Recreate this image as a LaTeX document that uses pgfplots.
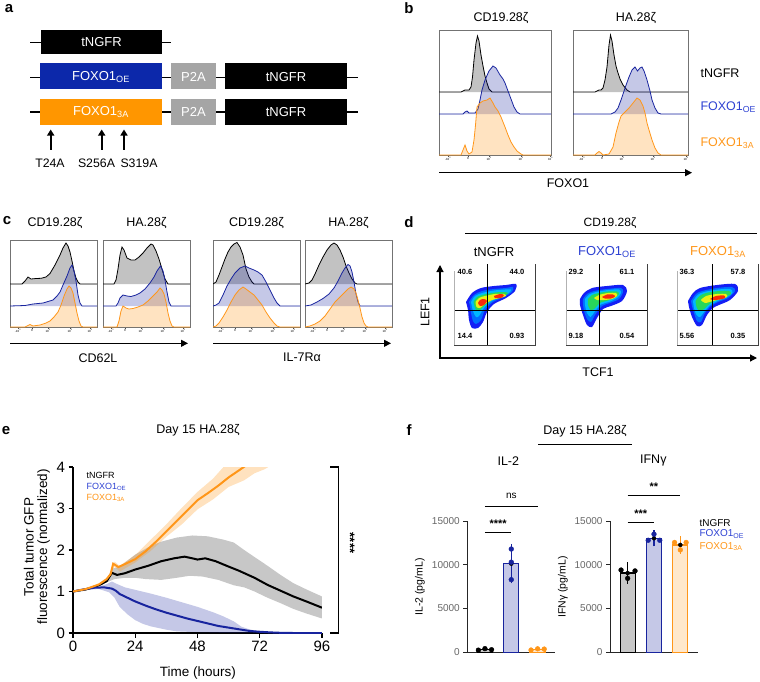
\documentclass[border=0pt]{standalone}
\usepackage{fontspec}
\setmainfont{Liberation Sans}
\usepackage{pgfplots}
\pgfplotsset{compat=1.18}
\usetikzlibrary{arrows.meta}
\definecolor{cblue}{RGB}{24,36,158}
\definecolor{cbluet}{RGB}{45,65,210}
\definecolor{corange}{RGB}{255,150,25}
\definecolor{cboxblue}{RGB}{12,40,170}
\definecolor{cboxorange}{RGB}{255,150,0}
\definecolor{cp2a}{RGB}{165,165,165}
\definecolor{fl1}{RGB}{20,30,245}
\definecolor{fl1b}{RGB}{0,110,255}
\definecolor{fl2}{RGB}{0,185,255}
\definecolor{fl3}{RGB}{40,215,90}
\definecolor{fl4}{RGB}{235,240,20}
\definecolor{fl5}{RGB}{250,40,10}
\newcommand\fs[1]{\fontsize{#1}{#1}\selectfont}
\newcommand\ex{\textsuperscript}
\pgfplotsset{
  hist/.style={scale only axis, xmin=0, ymin=0, clip=true,
    axis line style={draw=black!55, line width=0.5pt},
    ytick=\empty, xtick pos=left, tick align=outside,
    major tick length=1.6pt, tick style={black!70, line width=0.3pt},
    xticklabels={-10\ex{3},0,10\ex{3},10\ex{4},10\ex{5}},
    xticklabel style={font=\fs{3}, inner sep=0.6pt}},
  hk/.style={draw=black, line width=0.8pt, fill=black!24},
  hb/.style={draw=cblue, line width=0.8pt, fill=cblue, fill opacity=0.25},
  ho/.style={draw=corange, line width=0.8pt, fill=corange, fill opacity=0.27},
  dens/.style={scale only axis, width=81pt, height=81pt, xmin=0, xmax=81, ymin=-2, ymax=79,
    hide axis, clip=false},
  fbar/.style={scale only axis, width=87.7pt, height=131.3pt,
    xmin=-0.67, xmax=2.66, ymin=0, ymax=15000,
    axis x line*=bottom, axis y line*=left,
    axis line style={line width=1pt, black!85},
    xtick=\empty, ytick={0,5000,10000,15000}, scaled y ticks=false,
    yticklabel style={font=\fs{10}, text=black!60},
    /pgf/number format/assume math mode=true,
    /pgf/number format/1000 sep={},
    tick align=outside, major tick length=4pt, tick style={line width=1pt, black!85},
    clip=false},
  bk/.style={ybar, bar width=15pt, bar shift=0pt, draw=black, line width=1.3pt, fill=black!22},
  bb/.style={ybar, bar width=15pt, bar shift=0pt, draw=cblue, line width=1.3pt, fill=cblue!25},
  bo/.style={ybar, bar width=15pt, bar shift=0pt, draw=corange, line width=1.3pt, fill=corange!22},
  eb/.style={only marks, mark=none, error bars/.cd, y dir=both, y explicit, error mark=-,
    error mark options={mark size=4.5pt, line width=1.2pt, #1},
    error bar style={line width=1.2pt, #1}},
  dt/.style={only marks, mark=*, mark size=2.4pt, draw=#1, fill=#1},
}
\begin{document}
\begin{tikzpicture}
\path[use as bounding box] (0,0) rectangle (760pt,-681pt);

% ---------------- panel b ----------------
\begin{axis}[hist, at={(439pt,-155pt)}, width=112pt, height=125pt, xmax=112, ymax=125, xtick={9,29,50,82,111.5}]
\addplot[hk] coordinates {(0,63)(22,63)(24,64)(26,65)(28,65)(30,65)(32,68)(33.5,78)(35,95)(37,112)(38.5,119)(40,114)(42,100)(44,89)(46,79)(48,72)(50,66)(53,63)(112,63)};
\addplot[hb] coordinates {(0,41)(24,41)(26,43)(28,44)(30,42)(36,42)(39,46)(41,55)(43,65)(46,75)(50,84)(54,89)(57,87)(61,80)(64,76)(66,72)(69,64)(72,56)(75,48)(78,43)(81,41)(112,41)};
\addplot[ho] coordinates {(0,0)(22,0)(24,5)(26,10)(28,4)(30,1)(33,3)(35,15)(36.5,30)(38,48)(41,52)(44,54)(48,55)(51,57)(54,52)(56,48)(59,44)(62,38)(66,28)(69,20)(72,13)(75,8)(78,4)(82,1)(84,0)(112,0)};
\end{axis}
\begin{axis}[hist, at={(573pt,-155pt)}, width=115pt, height=125pt, xmax=115, ymax=125, xtick={9,29,49,80,113}]
\addplot[hk] coordinates {(0,63)(22,63)(24,64)(26,65)(28,65)(30,67)(32,75)(34,88)(36,110)(37.5,120)(39,114)(41,100)(43,89)(45,82)(47,76)(50,70)(54,65)(57,63)(115,63)};
\addplot[hb] coordinates {(0,41)(38,41)(42,43)(45,47)(48,55)(52,67)(56,78)(59,85)(62,88)(64.5,84)(67,87)(69,88)(71,84)(74,75)(77,64)(79,55)(82,47)(85,42)(88,41)(115,41)};
\addplot[ho] coordinates {(0,0)(22,0)(24,2)(26,3.5)(28,2)(30,0)(36,1)(40,8)(43,22)(46,33)(48,39)(52,43)(56,47)(60,52)(64,57)(67,55)(70,49)(72,42)(74,32)(76,25)(79,15)(82,7)(85,2)(88,0)(115,0)};
\end{axis}

% ---------------- panel c ----------------
\begin{axis}[hist, at={(10pt,-327pt)}, width=87pt, height=87pt, xmax=87, ymax=87, xtick={8,22,38,60,80}]
\addplot[hk] coordinates {(0,43)(12,43)(15,46)(18,50)(21,48)(26,48.5)(31,48.7)(36,50)(40,53.5)(45,62)(50,72)(53,79)(56,84)(58,81)(60,75)(62,66)(64,56)(66,49)(68,45)(70,43)(87,43)};
\addplot[hb] coordinates {(0,21)(15,21.5)(23,23)(33,24)(43,27)(47,31)(50,35)(53,42)(57,51)(60,59)(62,62)(64,56)(66,46)(68,32)(70,24)(72,21)(87,21)};
\addplot[ho] coordinates {(0,0)(15,0)(18,1.5)(20,2.5)(23,1)(30,2)(36,4)(40,6)(44,10)(48,15)(51,22)(54,31)(57,38)(59,41)(61,39)(63,34)(65,24)(67,14)(69,6)(71,1)(73,0)(87,0)};
\end{axis}
\begin{axis}[hist, at={(103pt,-327pt)}, width=87pt, height=87pt, xmax=87, ymax=87, xtick={8,22,38,60,80}]
\addplot[hk] coordinates {(0,43)(11,43)(13,47)(15,58)(17,72)(19,80)(21,77)(24,69)(28,67)(32,67)(36,70)(40,74)(44,79)(48,83)(50,82)(53,76)(56,68)(59,58)(62,48)(65,43)(87,43)};
\addplot[hb] coordinates {(0,21)(13,21)(15,24)(17,29)(20,32)(24,31)(28,30.5)(33,32)(37,34)(42,38)(47,44)(51,50)(54,56)(57.5,61)(60,56)(62,47)(64,35)(66,25)(68,21)(87,21)};
\addplot[ho] coordinates {(0,0)(14,0)(16,6)(18,16)(20,21)(23,19)(26,18)(30,18.5)(35,20)(40,22)(45,26)(50,31)(54,35)(57,39)(59,37)(61,33)(63,25)(65,14)(67,6)(69,1)(71,0)(87,0)};
\end{axis}
\begin{axis}[hist, at={(213pt,-327pt)}, width=87pt, height=87pt, xmax=87, ymax=87, xtick={8,22,38,60,80}]
\addplot[hk] coordinates {(0,43)(3,45)(6,52)(9,60)(12,68)(15,75)(18,80)(21,83)(24,84.5)(27,80)(30,72)(33,58)(36,50)(39,45)(41,43)(87,43)};
\addplot[hb] coordinates {(0,21)(3,22)(6,24)(10,32)(14,41)(18,48)(22,54)(27,59)(32,61)(36,59)(41,57)(45,55)(49,52)(53,45)(57,37)(61,29)(64,24)(67,21)(87,21)};
\addplot[ho] coordinates {(0,0)(3,1)(6,4)(10,10)(14,17)(18,25)(22,32)(26,37)(30,40)(33,38)(37,35)(41,32)(45,27)(49,22)(53,15)(57,9)(61,4)(64,1)(67,0)(87,0)};
\end{axis}
\begin{axis}[hist, at={(305pt,-327pt)}, width=87pt, height=87pt, xmax=87, ymax=87, xtick={8,22,38,60,80}]
\addplot[hk] coordinates {(0,43)(4,44)(7,47)(10,53)(14,62)(18,70)(22,77)(26,82)(29,84)(32,82)(35,77)(38,70)(41,61)(44,54)(47,48)(50,44)(52,43)(87,43)};
\addplot[hb] coordinates {(0,21)(6,22)(12,25)(18,28.5)(24,33)(29,39)(33,46)(37,54)(40,59)(43,62.5)(45,61)(47,55)(49,45)(51,33)(53,25)(55,21)(87,21)};
\addplot[ho] coordinates {(0,0)(5,1)(10,3)(15,6)(20,11)(25,18)(30,25)(35,30)(39,34)(43,38)(46,40)(49,38)(51,34)(53,27)(55,19)(57,10)(59,4)(61,1)(63,0)(87,0)};
\end{axis}

% ---------------- panel d ----------------
\begin{axis}[dens, at={(454pt,-345pt)}]
\addplot[fill=fl1, draw=none, smooth] coordinates {(12,41)(18,50)(27,55)(40,57)(52,58)(62,59)(61,52)(52,45)(40,39)(33,31)(29,21)(24,15)(18,15)(15,23)(14,33)(12,41)};
\addplot[fill=fl1b, draw=none, smooth] coordinates {(15,41)(20,48)(28,52)(40,54)(52,55)(59,56)(58,51)(50,46)(39,41)(31,33)(27,23)(22,19)(19,22)(17,30)(16,37)(15,41)};
\addplot[fill=fl2, draw=none, smooth] coordinates {(17,41)(21,47)(28,50)(40,52.5)(51,53.5)(57,53.5)(55,50)(48,46.5)(38,42)(30,35)(25,27)(22,26)(19,32)(17,41)};
\addplot[fill=fl3, draw=none, smooth] coordinates {(19.5,41)(23,46)(30,48.5)(41,50.5)(50,51)(54,50)(51,47.5)(45,46)(37,42.5)(30,37)(25,32)(21.5,34)(19.5,41)};
\addplot[fill=fl4, draw=none, smooth] coordinates {(21.5,41)(25,45)(31,47)(41,49)(50,49)(52,47)(46,45)(38,43)(31,39)(26,35)(22.5,36)(21.5,41)};
\addplot[fill=fl5, draw=none, smooth] coordinates {(24,40)(26,43)(30,44)(33,42)(30,38)(26,37)(24,40)};
\addplot[fill=fl5, draw=none, smooth] coordinates {(40,47)(46,49)(50,48)(47,45)(41,45)(40,47)};
\addplot[black, line width=0.7pt] coordinates {(33,-2)(33,79)};
\addplot[black, line width=0.7pt] coordinates {(0,33)(81,33)};
\addplot[black!75, line width=0.6pt] coordinates {(81,79)(81,-2)(0,-2)};
\addplot[black!30, line width=0.4pt] coordinates {(0,-2)(0,72)};
\node[font=\bfseries\fs{7.5}] at (axis cs:11,71) {40.6};
\node[font=\bfseries\fs{7.5}] at (axis cs:63,71) {44.0};
\node[font=\bfseries\fs{7.5}] at (axis cs:11,7) {14.4};
\node[font=\bfseries\fs{7.5}] at (axis cs:63,7) {0.93};
\end{axis}
\begin{axis}[dens, at={(566pt,-345pt)}]
\addplot[fill=fl1, draw=none, smooth] coordinates {(14,44)(18,50)(26,55)(41,57)(57,58)(61,52)(56,42)(45,37)(37,34)(31,25)(26,16)(21,18)(17,28)(14,38)(14,44)};
\addplot[fill=fl1b, draw=none, smooth] coordinates {(17,44)(21,49)(28,52)(41,54)(55,55)(57,51)(53,44)(44,40)(36,37)(29,28)(25,21)(21,24)(18,32)(17,39)(17,44)};
\addplot[fill=fl2, draw=none, smooth] coordinates {(19,44)(23,48.5)(30,51)(42,53)(53,53.5)(55,50)(51,45)(43,41)(35,38.5)(28.5,31)(24.5,26)(21,30)(19,38)(19,44)};
\addplot[fill=fl3, draw=none, smooth] coordinates {(22,44)(26,48)(33,50)(42,51.5)(51,51.5)(53,49)(49,45.5)(42,42.5)(34,40)(28,34)(24.5,33)(22,38)(22,44)};
\addplot[fill=fl4, draw=none, smooth] coordinates {(28,45)(33,48)(42,50)(50,50)(51,47)(46,44)(38,43)(31,43)(28,45)};
\addplot[fill=fl5, draw=none, smooth] coordinates {(36,46)(41,48.5)(47,48.5)(49,46.5)(45,44.5)(39,44.5)(36,46)};
\addplot[black, line width=0.7pt] coordinates {(33,-2)(33,79)};
\addplot[black, line width=0.7pt] coordinates {(0,33)(81,33)};
\addplot[black!75, line width=0.6pt] coordinates {(81,79)(81,-2)(0,-2)};
\addplot[black!30, line width=0.4pt] coordinates {(0,-2)(0,72)};
\node[font=\bfseries\fs{7.5}] at (axis cs:10,71) {29.2};
\node[font=\bfseries\fs{7.5}] at (axis cs:61,71) {61.1};
\node[font=\bfseries\fs{7.5}] at (axis cs:10,7) {9.18};
\node[font=\bfseries\fs{7.5}] at (axis cs:61,7) {0.54};
\end{axis}
\begin{axis}[dens, at={(677pt,-345pt)}]
\addplot[fill=fl1, draw=none, smooth] coordinates {(11,42)(16,50)(23,55)(40,58)(58,59)(61,52)(53,43)(42,38)(36,35)(30,28)(25,18)(20,17)(15,26)(12,36)(11,42)};
\addplot[fill=fl1b, draw=none, smooth] coordinates {(14,42)(19,49)(25,52)(40,55)(55,56)(58,52)(51,45)(41,41)(34,37)(28,30)(24,21)(20,22)(17,30)(15,37)(14,42)};
\addplot[fill=fl2, draw=none, smooth] coordinates {(16,42)(20.5,48)(27,51)(41,53.5)(53,54)(55.5,50.5)(49.5,45.5)(40.5,42)(33.5,38)(27.5,31.5)(23,26)(19.5,28)(17,35)(16,42)};
\addplot[fill=fl3, draw=none, smooth] coordinates {(18.5,42)(22.5,47)(29,50)(42,52)(52,52)(54,49)(48,46)(40,43)(33,39.5)(27,34)(22.5,32)(19.5,36)(18.5,42)};
\addplot[fill=fl4, draw=none, smooth] coordinates {(24,43)(29,47)(40,49)(49,49)(50,46)(44,44)(36,42)(28,40)(24,43)};
\addplot[fill=fl5, draw=none, smooth] coordinates {(33,44)(39,47)(47,47.5)(48,45)(43,43.5)(36,43)(33,44)};
\addplot[black, line width=0.7pt] coordinates {(35,-2)(35,79)};
\addplot[black, line width=0.7pt] coordinates {(0,33)(81,33)};
\addplot[black!75, line width=0.6pt] coordinates {(81,79)(81,-2)(0,-2)};
\addplot[black!30, line width=0.4pt] coordinates {(0,-2)(0,72)};
\node[font=\bfseries\fs{7.5}] at (axis cs:10,71) {36.3};
\node[font=\bfseries\fs{7.5}] at (axis cs:61,71) {57.8};
\node[font=\bfseries\fs{7.5}] at (axis cs:10,7) {5.56};
\node[font=\bfseries\fs{7.5}] at (axis cs:61,7) {0.35};
\end{axis}

% ---------------- panel e ----------------
\begin{axis}[at={(73pt,-633pt)}, scale only axis, width=249pt, height=166pt,
  xmin=0, xmax=96, ymin=0, ymax=4,
  axis x line*=bottom, axis y line*=left,
  axis line style={line width=1.3pt},
  xtick={0,24,48,72,96}, ytick={0,1,2,3,4},
  tick align=outside, major tick length=4.5pt,
  tick style={line width=1.3pt, black},
  ticklabel style={font=\fs{15}},
  /pgf/number format/assume math mode=true,
  clip=true]
\addplot[fill=black!22, draw=none] coordinates {(0,1)(10,1.16)(13,1.28)(15,1.55)(18,1.6)(24,1.89)(30,2.1)(34,2.2)(40,2.3)(46,2.35)(52,2.33)(58,2.25)(62,2.18)(66,2.0)(70,1.83)(75,1.62)(80,1.4)(85,1.2)(90,1.05)(96,0.88)
 (96,0.35)(90,0.47)(85,0.58)(80,0.72)(75,0.85)(70,1.0)(66,1.1)(62,1.15)(56,1.28)(50,1.36)(45,1.38)(40,1.33)(34,1.28)(28,1.3)(24,1.33)(20,1.33)(16,1.3)(13,1.22)(10,1.13)(0,1)} -- cycle;
\addplot[fill=cblue, fill opacity=0.25, draw=none] coordinates {(0,1)(6,1.08)(10,1.12)(13,1.18)(15,1.24)(17,1.18)(20,1.1)(24,1.04)(30,0.95)(36,0.85)(42,0.74)(48,0.63)(54,0.5)(58,0.4)(62,0.28)(65,0.15)(68,0.09)(72,0.03)(76,0.01)(80,0)
 (60,0)(48,0.02)(40,0.04)(36,0.08)(30,0.16)(27,0.22)(24,0.31)(21,0.45)(18,0.63)(16,0.85)(14,0.98)(10,1.06)(6,1.04)(0,1)} -- cycle;
\addplot[fill=corange, fill opacity=0.28, draw=none] coordinates {(0,1)(6,1.08)(12,1.25)(15,1.5)(16,1.72)(18,1.62)(24,1.88)(30,2.25)(36,2.62)(42,3.02)(48,3.4)(54,3.72)(58,4.0)(64,4.4)
 (78,4.1)(74,3.95)(70,3.85)(66,3.68)(60,3.52)(54,3.22)(48,2.98)(42,2.62)(36,2.32)(30,1.98)(24,1.7)(18,1.48)(16,1.6)(12,1.2)(6,1.04)(0,1)} -- cycle;
\addplot[black, line width=2pt] coordinates {(0,1)(5,1.05)(10,1.15)(13,1.25)(15,1.45)(17,1.4)(20,1.44)(24,1.53)(29,1.62)(34,1.73)(39,1.8)(43,1.84)(46,1.8)(48,1.77)(51,1.8)(55,1.73)(60,1.6)(64,1.5)(70,1.33)(75,1.16)(80,1.02)(85,0.88)(90,0.76)(96,0.61)};
\addplot[cblue, line width=2pt] coordinates {(0,1)(4,1.05)(8,1.09)(12,1.1)(15,1.07)(16.5,1.02)(18,0.94)(21,0.85)(24,0.76)(28,0.66)(32,0.57)(36,0.49)(40,0.42)(44,0.35)(48,0.29)(52,0.23)(56,0.17)(60,0.13)(64,0.09)(68,0.05)(72,0.03)(76,0.015)(80,0.005)(85,0)(96,0)};
\addplot[corange, line width=2pt] coordinates {(0,1)(5,1.06)(10,1.17)(13,1.3)(14.5,1.42)(15.5,1.67)(17.5,1.59)(20,1.66)(24,1.78)(28,1.97)(32,2.2)(36,2.45)(40,2.7)(44,2.95)(48,3.2)(52,3.37)(56,3.55)(60,3.75)(64,3.92)(67,4.05)};
\end{axis}

% ---------------- panel f ----------------
\begin{axis}[fbar, at={(467.3pt,-652.3pt)}]
\addplot[bk] coordinates {(0,320)};
\addplot[bb] coordinates {(1,10130)};
\addplot[bo] coordinates {(2,340)};
\addplot[eb=cblue] coordinates {(1,10130) +- (0,1750)};
\addplot[dt=black] coordinates {(-0.25,250)(0,420)(0.25,300)};
\addplot[dt=cblue] coordinates {(1,11800)(1,10300)(1,8300)};
\addplot[dt=corange] coordinates {(1.75,260)(2,400)(2.25,370)};
\draw[line width=0.9pt] (axis cs:0,13740) -- (axis cs:1,13740);
\node[font=\bfseries\fs{11}] at (axis cs:0.5,14700) {****};
\draw[line width=0.9pt] (axis cs:0,16700) -- (axis cs:2,16700);
\node[font=\fs{10}] at (axis cs:1,17900) {ns};
\end{axis}
\begin{axis}[fbar, at={(610pt,-652.3pt)}]
\addplot[bk] coordinates {(0,9050)};
\addplot[bb] coordinates {(1,13030)};
\addplot[bo] coordinates {(2,12270)};
\addplot[eb=black] coordinates {(0,9050) +- (0,700)};
\addplot[eb=cblue] coordinates {(1,13030) +- (0,420)};
\addplot[eb=corange] coordinates {(2,12270) +- (0,490)};
\addplot[dt=black] coordinates {(-0.25,9400)(0,8450)(0.28,9300)};
\addplot[dt=cblue] coordinates {(1,13500)(0.78,12800)(1.22,12800)};
\addplot[dt=corange] coordinates {(1.78,12550)(2,11700)(2.22,12550)};
\draw[line width=0.9pt] (axis cs:0,14890) -- (axis cs:1,14890);
\node[font=\bfseries\fs{11}] at (axis cs:0.5,15800) {***};
\draw[line width=0.9pt] (axis cs:0,17970) -- (axis cs:2,17970);
\node[font=\bfseries\fs{11}] at (axis cs:1,18900) {**};
\end{axis}

% ---------------- text and diagrams ----------------
\begin{scope}[x=1pt,y=-1pt]
% letters
\node[font=\bfseries\fs{15}] at (9,9) {a};
\node[font=\bfseries\fs{15}] at (409,8) {b};
\node[font=\bfseries\fs{15}] at (7,221) {c};
\node[font=\bfseries\fs{15}] at (409,222) {d};
\node[font=\bfseries\fs{15}] at (6,431) {e};
\node[font=\bfseries\fs{15}] at (409,430) {f};
% panel a
\draw[line width=1.3pt] (30,42.3) -- (171,42.3);
\fill[black] (41,30) rectangle (162,54);
\node[white, font=\fs{13}] at (101.5,42) {tNGFR};
\draw[line width=1.3pt] (30,77.3) -- (358,77.3);
\fill[cboxblue] (40,63.3) rectangle (162.3,89.3);
\fill[cp2a] (171,63.3) rectangle (216,89.3);
\fill[black] (225,63.3) rectangle (346.7,89.3);
\node[white, font=\fs{13}] at (101,77) {FOXO1\textsubscript{OE}};
\node[white, font=\fs{13}] at (193.5,77) {P2A};
\node[white, font=\fs{13}] at (286,77) {tNGFR};
\draw[line width=1.3pt] (30,112) -- (358,112);
\fill[cboxorange] (40,99.3) rectangle (162.3,124.7);
\fill[cp2a] (171,99.3) rectangle (216,124.7);
\fill[black] (225,99.3) rectangle (346.7,124.7);
\node[white, font=\fs{13}] at (101,112) {FOXO1\textsubscript{3A}};
\node[white, font=\fs{13}] at (193.5,112) {P2A};
\node[white, font=\fs{13}] at (286,112) {tNGFR};
\foreach \xx in {50.7,101.7,124} \draw[line width=1.6pt, -{Triangle[length=6pt,width=7pt]}] (\xx,149.5) -- (\xx,129.5);
\node[font=\fs{12.3}] at (50,163) {T24A};
\node[font=\fs{12.3}] at (96.5,163) {S256A};
\node[font=\fs{12.3}] at (139,163) {S319A};
% panel b text
\node[font=\fs{12.5}] at (501,18) {CD19.28ζ};
\node[font=\fs{12.5}] at (636,18) {HA.28ζ};
\node[font=\fs{12.5}, anchor=west] at (697,72.7) {tNGFR};
\node[font=\fs{12.5}, anchor=west, text=cbluet] at (697,107) {FOXO1\textsubscript{OE}};
\node[font=\fs{12.5}, anchor=west, text=corange] at (697,143) {FOXO1\textsubscript{3A}};
\draw[line width=1pt, -{Triangle[length=7pt,width=7pt]}] (439,172.7) -- (692,172.7);
\node[font=\fs{12.5}] at (568,183) {FOXO1};
% panel c text
\node[font=\fs{12.5}] at (55,223) {CD19.28ζ};
\node[font=\fs{12.5}] at (146.5,223) {HA.28ζ};
\node[font=\fs{12.5}] at (256.5,223) {CD19.28ζ};
\node[font=\fs{12.5}] at (348.5,223) {HA.28ζ};
\draw[line width=1pt, -{Triangle[length=7pt,width=7pt]}] (10,343.3) -- (188,343.3);
\draw[line width=1pt, -{Triangle[length=7pt,width=7pt]}] (213,343.3) -- (391,343.3);
\node[font=\fs{12.5}] at (98,358) {CD62L};
\node[font=\fs{12.5}] at (302,357) {IL-7Rα};
% panel d text
\node[font=\fs{12}] at (610,223) {CD19.28ζ};
\draw[line width=1pt] (465,233) -- (757,233);
\node[font=\fs{13}] at (494,252) {tNGFR};
\node[font=\fs{13}, text=cbluet] at (607,252) {FOXO1\textsubscript{OE}};
\node[font=\fs{13}, text=corange] at (718,252) {FOXO1\textsubscript{3A}};
\draw[line width=1.2pt, -{Triangle[length=7pt,width=7pt]}] (440,358) -- (440,265);
\draw[line width=1.2pt, -{Triangle[length=7pt,width=7pt]}] (439.4,358) -- (757,358);
\node[font=\fs{12.5}, rotate=90] at (425,312) {LEF1};
\node[font=\fs{12.5}] at (598,372) {TCF1};
% panel e text
\node[font=\fs{12.5}] at (198,430) {Day 15 HA.28ζ};
\node[font=\fs{9}, anchor=west] at (83,475) {tNGFR};
\node[font=\fs{9}, anchor=west, text=cbluet] at (83,486.5) {FOXO1\textsubscript{OE}};
\node[font=\fs{9}, anchor=west, text=corange] at (83,498) {FOXO1\textsubscript{3A}};
\node[font=\fs{13.5}] at (198,673) {Time (hours)};
\node[font=\fs{13.5}, rotate=90, align=center] at (37,547) {\baselineskip=16.5pt Total tumor GFP\\fluorescence (normalized)};
\draw[line width=1.2pt] (330,467) -- (338.3,467) -- (338.3,633) -- (330,633);
\node[font=\bfseries\fs{13}, rotate=-90] at (350,543) {****};
% panel f text
\node[font=\fs{12.5}] at (585,431.5) {Day 15 HA.28ζ};
\draw[line width=1pt] (538.3,444) -- (632.3,444);
\node[font=\fs{12.5}] at (508.3,460.7) {IL-2};
\node[font=\fs{12.5}] at (653.3,460.7) {IFNγ};
\node[font=\fs{10.5}, rotate=90] at (420,587) {IL-2 (pg/mL)};
\node[font=\fs{10.5}, rotate=90] at (563,587) {IFNγ (pg/mL)};
\node[font=\fs{10}, anchor=west] at (696,522.7) {tNGFR};
\node[font=\fs{10}, anchor=west, text=cbluet] at (696,534) {FOXO1\textsubscript{OE}};
\node[font=\fs{10}, anchor=west, text=corange] at (696,546.5) {FOXO1\textsubscript{3A}};
\end{scope}
\end{tikzpicture}
\end{document}
